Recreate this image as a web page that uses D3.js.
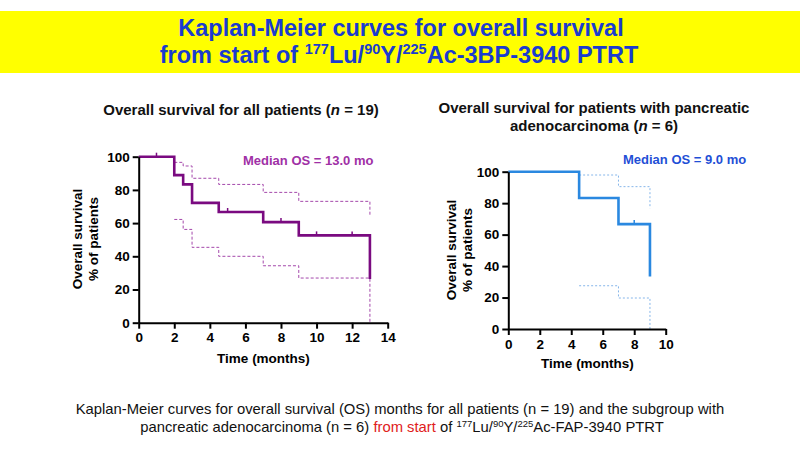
<!DOCTYPE html>
<html><head><meta charset="utf-8">
<script src="https://cdn.jsdelivr.net/npm/d3@7"></script>
<style>
body{margin:0;background:#fff;}
svg{display:block;font-family:Arial,"Liberation Sans",sans-serif;}
</style></head>
<body>
<svg id="c" width="800" height="450"></svg>
<script>
// ---- data ----
const allTimes   = [0, 2, 2.5, 3, 4.5, 7, 9, 13];
const allSurv    = [100, 88.9, 83.3, 72.2, 66.7, 60.6, 52.6, 26.3];
const allUpT     = [2, 2.5, 3, 4.5, 7, 9, 13];
const allUpV     = [96.6, 94.4, 87.0, 83.3, 78.5, 73.1, 63.9];
const allLoT     = [2, 2.5, 3, 4.5, 7, 9, 13];
const allLoV     = [62.2, 56.2, 45.4, 40.0, 34.3, 26.9, 0];
const allCensT   = [1, 5, 8, 10, 12];
const allCensV   = [100, 66.7, 60.6, 52.6, 52.6];

const panTimes   = [0, 4.5, 7, 9];
const panSurv    = [100, 83.3, 66.7, 33.3];
const panUpT     = [4.5, 7, 9];
const panUpV     = [97.9, 90.5, 76.7];
const panLoT     = [4.5, 7, 9];
const panLoV     = [27.5, 19.7, 0];
const panCensT   = [8];
const panCensV   = [66.7];

const allXTicks  = [0, 2, 4, 6, 8, 10, 12, 14];
const panXTicks  = [0, 2, 4, 6, 8, 10];
const yTicks     = [0, 20, 40, 60, 80, 100];

const svg = d3.select("#c");

// ---- banner ----
svg.append("rect").attr("x",0).attr("y",11).attr("width",800).attr("height",62).attr("fill","#ffff00");
const tcol = "#1b3ccf";
svg.append("text").attr("x",401).attr("y",36).attr("text-anchor","middle")
  .attr("font-size",23.5).attr("font-weight","bold").attr("fill",tcol)
  .text("Kaplan-Meier curves for overall survival");
const t2 = svg.append("text").attr("x",399).attr("y",63).attr("text-anchor","middle")
  .attr("font-size",23.5).attr("font-weight","bold").attr("fill",tcol);
t2.append("tspan").text("from start of ");
t2.append("tspan").attr("font-size",14.5).attr("dy",-9).text("177");
t2.append("tspan").attr("dy",9).text("Lu/");
t2.append("tspan").attr("font-size",14.5).attr("dy",-9).text("90");
t2.append("tspan").attr("dy",9).text("Y/");
t2.append("tspan").attr("font-size",14.5).attr("dy",-9).text("225");
t2.append("tspan").attr("dy",9).text("Ac-3BP-3940 PTRT");

// ---- subtitles ----
const s1 = svg.append("text").attr("x",241).attr("y",115).attr("text-anchor","middle")
  .attr("font-size",15).attr("font-weight","bold").attr("fill","#111");
s1.append("tspan").text("Overall survival for all patients (");
s1.append("tspan").attr("font-style","italic").text("n");
s1.append("tspan").text(" = 19)");
svg.append("text").attr("x",594).attr("y",113).attr("text-anchor","middle")
  .attr("font-size",15).attr("font-weight","bold").attr("fill","#111")
  .text("Overall survival for patients with pancreatic");
const s2 = svg.append("text").attr("x",594).attr("y",131).attr("text-anchor","middle")
  .attr("font-size",15).attr("font-weight","bold").attr("fill","#111");
s2.append("tspan").text("adenocarcinoma (");
s2.append("tspan").attr("font-style","italic").text("n");
s2.append("tspan").text(" = 6)");

// ---- panel drawing ----
function panel(cfg){
  const x = d3.scaleLinear().domain(cfg.xDom).range(cfg.xRange);
  const y = d3.scaleLinear().domain([0,100]).range(cfg.yRange);
  const g = svg.append("g");

  const line = d3.line().x(d=>x(d[0])).y(d=>y(d[1])).curve(d3.curveStepAfter);
  const zip = (a,b)=>a.map((v,i)=>[v,b[i]]);

  g.append("path").attr("d",line(zip(cfg.upT,cfg.upV))).attr("fill","none")
    .attr("stroke",cfg.ciColor).attr("stroke-width",1).attr("stroke-dasharray",cfg.dash);
  g.append("path").attr("d",line(zip(cfg.loT,cfg.loV))).attr("fill","none")
    .attr("stroke",cfg.ciColor).attr("stroke-width",1).attr("stroke-dasharray",cfg.dash);
  g.append("path").attr("d",line(zip(cfg.t,cfg.s))).attr("fill","none")
    .attr("stroke",cfg.color).attr("stroke-width",2.6);
  g.selectAll(".cens").data(zip(cfg.cT,cfg.cV)).enter().append("line")
    .attr("x1",d=>x(d[0])).attr("x2",d=>x(d[0]))
    .attr("y1",d=>y(d[1])).attr("y2",d=>y(d[1])-4)
    .attr("stroke",cfg.color).attr("stroke-width",1.5);

  const xa = g.append("g").attr("transform",`translate(0,${cfg.yRange[0]})`)
    .call(d3.axisBottom(x).tickValues(cfg.xTicks).tickSize(6).tickSizeOuter(0).tickPadding(4));
  const ya = g.append("g").attr("transform",`translate(${cfg.xRange[0]},0)`)
    .call(d3.axisLeft(y).tickValues(yTicks).tickSize(6).tickSizeOuter(0).tickPadding(3));
  [xa,ya].forEach(a=>{
    a.selectAll("path,line").attr("stroke","#000").attr("stroke-width",2);
    a.selectAll("text").attr("font-size",13.5).attr("font-weight","bold").attr("fill","#000")
      .attr("font-family","Arial, 'Liberation Sans', sans-serif");
  });

  g.append("text").attr("x",cfg.xlabX).attr("y",cfg.xlabY).attr("text-anchor","middle")
    .attr("font-size",13.5).attr("font-weight","bold").text("Time (months)");
  g.append("text").attr("transform",`translate(${cfg.ylabX},${cfg.ylabY}) rotate(-90)`)
    .attr("text-anchor","middle").attr("font-size",13.5).attr("font-weight","bold").text("Overall survival");
  g.append("text").attr("transform",`translate(${cfg.ylabX+16.5},${cfg.ylabY}) rotate(-90)`)
    .attr("text-anchor","middle").attr("font-size",13.5).attr("font-weight","bold").text("% of patients");
  g.append("text").attr("x",cfg.medX).attr("y",cfg.medY).attr("font-size",13)
    .attr("font-weight","bold").attr("fill",cfg.medColor).text(cfg.medText);
}

panel({xDom:[0,14], xRange:[138.7,387.7], yRange:[322.7,156.7],
  t:allTimes, s:allSurv, upT:allUpT, upV:allUpV, loT:allLoT, loV:allLoV, cT:allCensT, cV:allCensV,
  color:"#7a0a80", ciColor:"#a448ab", dash:"3,2", xTicks:allXTicks,
  xlabX:263.5, xlabY:363, ylabX:81.5, ylabY:239,
  medX:243, medY:165, medColor:"#a030a6", medText:"Median OS = 13.0 mo"});

panel({xDom:[0,10], xRange:[508.3,665.7], yRange:[329,171.7],
  t:panTimes, s:panSurv, upT:panUpT, upV:panUpV, loT:panLoT, loV:panLoV, cT:panCensT, cV:panCensV,
  color:"#2a88e0", ciColor:"#86b6ea", dash:"2,2", xTicks:panXTicks,
  xlabX:587.5, xlabY:368, ylabX:455.7, ylabY:250,
  medX:623, medY:164, medColor:"#1f4fd6", medText:"Median OS = 9.0 mo"});

// ---- caption ----
svg.append("text").attr("x",400).attr("y",414).attr("text-anchor","middle")
  .attr("font-size",14.8).attr("fill","#111")
  .text("Kaplan-Meier curves for overall survival (OS) months for all patients (n = 19) and the subgroup with");
const c2 = svg.append("text").attr("x",402).attr("y",432).attr("text-anchor","middle")
  .attr("font-size",14.8).attr("fill","#111");
c2.append("tspan").text("pancreatic adenocarcinoma (n = 6) ");
c2.append("tspan").attr("fill","#e0201c").text("from start");
c2.append("tspan").text(" of ");
c2.append("tspan").attr("font-size",9.5).attr("dy",-5).text("177");
c2.append("tspan").attr("dy",5).text("Lu/");
c2.append("tspan").attr("font-size",9.5).attr("dy",-5).text("90");
c2.append("tspan").attr("dy",5).text("Y/");
c2.append("tspan").attr("font-size",9.5).attr("dy",-5).text("225");
c2.append("tspan").attr("dy",5).text("Ac-FAP-3940 PTRT");
</script>
</body></html>
